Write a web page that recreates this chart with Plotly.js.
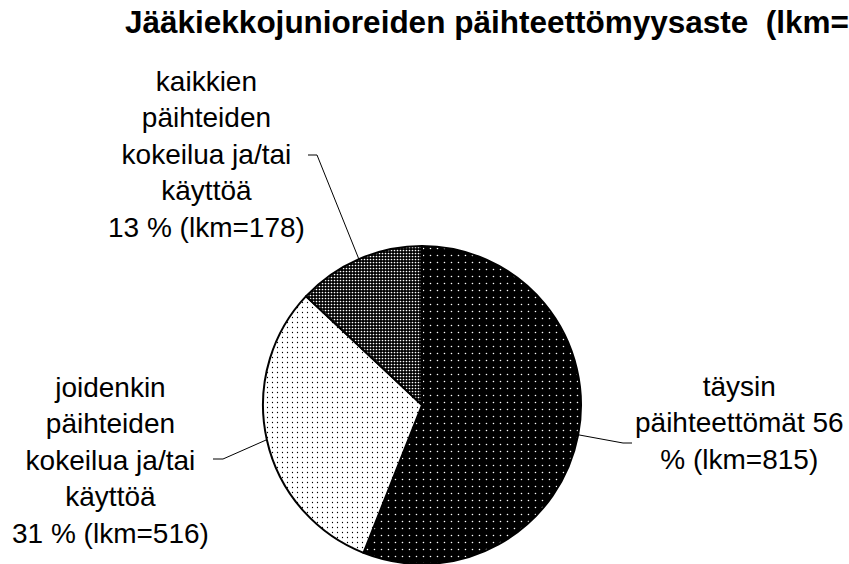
<!DOCTYPE html>
<html>
<head>
<meta charset="utf-8">
<script src="https://cdn.plot.ly/plotly-3.0.1.min.js"></script>
<style>html,body{margin:0;padding:0;background:#fff;}#chart{width:849px;height:564px;}</style>
</head>
<body>
<div id="chart"></div>
<script>
// ---- data ----
const titleText = 'Jääkiekkojunioreiden päihteettömyysaste\u00a0 (lkm=';
const categories = ['täysin päihteettömät', 'joidenkin päihteiden kokeilua ja/tai käyttöä', 'kaikkien päihteiden kokeilua ja/tai käyttöä'];
const percents = [56, 31, 13];
const counts = [815, 516, 178];
const labelLines = [
  ['täysin', 'päihteettömät ' + percents[0], '% (lkm=' + counts[0] + ')'],
  ['joidenkin', 'päihteiden', 'kokeilua ja/tai', 'käyttöä', percents[1] + ' % (lkm=' + counts[1] + ')'],
  ['kaikkien', 'päihteiden', 'kokeilua ja/tai', 'käyttöä', percents[2] + ' % (lkm=' + counts[2] + ')']
];

// ---- layout constants (pixels) ----
const W = 849, H = 564;
const cx = 422, cy = 405, R = 159;
const px = x => x / W;
const py = y => 1 - y / H;
// label centres and leader elbows
const labelPos = [
  {x: 739, y: 423, elbow: [623, 443], tick: [632, 443]},
  {x: 110, y: 460, elbow: [223, 459], tick: [213, 459]},
  {x: 206, y: 154, elbow: [317, 155], tick: [308, 155]}
];

const total = percents.reduce((a, b) => a + b, 0);
let cum = 0;
const shapes = [];
const annotations = [];
percents.forEach((p, i) => {
  const mid = (cum + p / 2) / total * 2 * Math.PI;
  cum += p;
  const ex = cx + R * Math.sin(mid), ey = cy - R * Math.cos(mid);
  const L = labelPos[i];
  shapes.push({
    type: 'path', xref: 'paper', yref: 'paper',
    path: `M${px(ex)},${py(ey)} L${px(L.elbow[0])},${py(L.elbow[1])} L${px(L.tick[0])},${py(L.tick[1])}`,
    line: {color: '#000', width: 1}
  });
  annotations.push({
    xref: 'paper', yref: 'paper', x: px(L.x), y: py(L.y),
    xanchor: 'center', yanchor: 'middle', showarrow: false, align: 'center',
    text: labelLines[i].join('<br>'),
    font: {family: 'Liberation Sans, Arial, sans-serif', size: 28, color: '#000'}
  });
});
annotations.push({
  xref: 'paper', yref: 'paper', x: px(123), y: py(2),
  xanchor: 'left', yanchor: 'top', showarrow: false,
  text: titleText,
  font: {family: 'Liberation Sans, Arial, sans-serif', size: 31.5, color: '#000', weight: 'bold'}
});

const trace = {
  type: 'pie',
  labels: categories,
  values: percents,
  sort: false,
  direction: 'clockwise',
  rotation: 0,
  textinfo: 'none',
  hoverinfo: 'label+percent',
  domain: {x: [px(cx - R), px(cx + R)], y: [py(cy + R), py(cy - R)]},
  marker: {
    colors: ['#000000', '#ffffff', '#000000'],
    line: {color: '#000', width: 2},
    pattern: {
      shape: ['.', '.', '.'],
      bgcolor: ['#000000', '#ffffff', '#000000'],
      fgcolor: ['#ffffff', '#000000', '#ffffff'],
      size: [7, 5, 3],
      solidity: [0.04, 0.05, 0.25],
      fillmode: 'replace'
    }
  }
};

const layout = {
  width: W, height: H,
  margin: {l: 0, r: 0, t: 0, b: 0},
  paper_bgcolor: '#fff', plot_bgcolor: '#fff',
  showlegend: false,
  shapes: shapes,
  annotations: annotations
};

Plotly.newPlot('chart', [trace], layout, {displayModeBar: false, staticPlot: true});
</script>
</body>
</html>
